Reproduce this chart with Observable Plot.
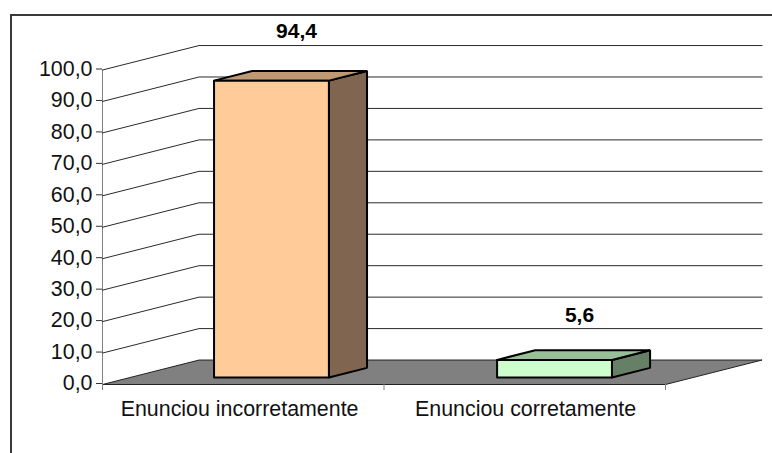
<!DOCTYPE html>
<html>
<head>
<meta charset="utf-8">
<script src="https://cdn.jsdelivr.net/npm/d3@7"></script>
<script src="https://cdn.jsdelivr.net/npm/@observablehq/plot@0.6"></script>
<style>
html,body{margin:0;padding:0;background:#fff;overflow:hidden;width:772px;height:453px}
#wrap{position:relative;width:772px;height:453px;overflow:hidden}
#border{position:absolute;left:10px;top:14px;width:800px;height:480px;border:2px solid #3a3a3a;pointer-events:none}
svg{display:block;position:absolute;left:0;top:0;background:transparent !important}
</style>
</head>
<body>
<div id="wrap"><div id="border"></div></div>
<script>
const categories = ["Enunciou incorretamente", "Enunciou corretamente"];
const values = [94.4, 5.6];
const frontColors = ["#FFCC99", "#CCFFCC"];
const topColors = ["#BF9973", "#99BF99"];
const sideColors = ["#806650", "#668066"];
const yTicks = [0, 10, 20, 30, 40, 50, 60, 70, 80, 90, 100];

// Oblique projection of the 3D chart, in data units of the x and y scales
const DX = 0.343, DY = 7.78;
const P = (x, y, d) => ({x: x + d * DX, y: y + d * DY});
const comma = (v) => v.toFixed(1).replace(".", ",");
const centers = [0.5025, 1.508];
const halfW = 0.204, d0 = 0.285, d1 = 0.68;
const labelLift = [1.9, 0.3];

const face = (pts, fill, stroke, strokeWidth) => {
  const c = pts.concat([pts[0]]);
  return Plot.line(c, {x: "x", y: "y", fill, stroke, strokeWidth, strokeLinejoin: "miter", curve: "linear"});
};

const marks = [];
// left wall axis line
marks.push(Plot.line([P(0, 0, 0), P(0, 100, 0)], {x: "x", y: "y", stroke: "#808080", strokeWidth: 1}));
// gridlines
for (const t of yTicks.slice(1)) {
  marks.push(Plot.line([P(0, t, 0), P(0, t, 1), P(2, t, 1)], {x: "x", y: "y", stroke: "#2a2a2a", strokeWidth: 1, strokeLinejoin: "miter"}));
}
// floor
marks.push(face([P(0, 0, 0), P(0, 0, 1), P(2, 0, 1), P(2, 0, 0)], "#808080", "#222", 1));
// bars
values.forEach((v, i) => {
  const a = centers[i] - halfW, b = centers[i] + halfW;
  marks.push(face([P(b, 0, d0), P(b, 0, d1), P(b, v, d1), P(b, v, d0)], sideColors[i], "#000", 2));
  marks.push(face([P(a, v, d0), P(b, v, d0), P(b, v, d1), P(a, v, d1)], topColors[i], "#000", 2));
  marks.push(face([P(a, 0, d0), P(b, 0, d0), P(b, v, d0), P(a, v, d0)], frontColors[i], "#000", 2));
});
// value labels
marks.push(Plot.text(values, {
  x: (d, i) => P(centers[i], d, d0).x,
  y: (d, i) => P(centers[i], d + labelLift[i], d1).y,
  text: comma,
  dx: 25, dy: -34,
  fontSize: 21, fontWeight: "bold", fill: "#000", textAnchor: "middle"
}));
// axes
marks.push(Plot.axisY({ticks: yTicks, tickFormat: comma, tickSize: 6, tickPadding: 4, fontSize: 21.4, dy: -1, anchor: "left", label: null, stroke: "#333", fill: "#111"}));
marks.push(Plot.axisX({ticks: [0, 1, 2], tickFormat: () => "", tickSize: 6, label: null, stroke: "#808080"}));
marks.push(Plot.axisX({ticks: [0.487, 1.503], tickFormat: (d) => categories[Math.floor(d)], tickSize: 0, tickPadding: 16, fontSize: 21.4, label: null, fill: "#111"}));

const chart = Plot.plot({
  width: 772, height: 453,
  marginLeft: 102, marginRight: 107, marginTop: 69.5, marginBottom: 69,
  style: {fontFamily: "'Liberation Sans', Arial, sans-serif", background: "transparent", overflow: "visible"},
  x: {domain: [0, 2]},
  y: {domain: [0, 100]},
  marks
});
document.getElementById("wrap").appendChild(chart);
</script>
</body>
</html>
